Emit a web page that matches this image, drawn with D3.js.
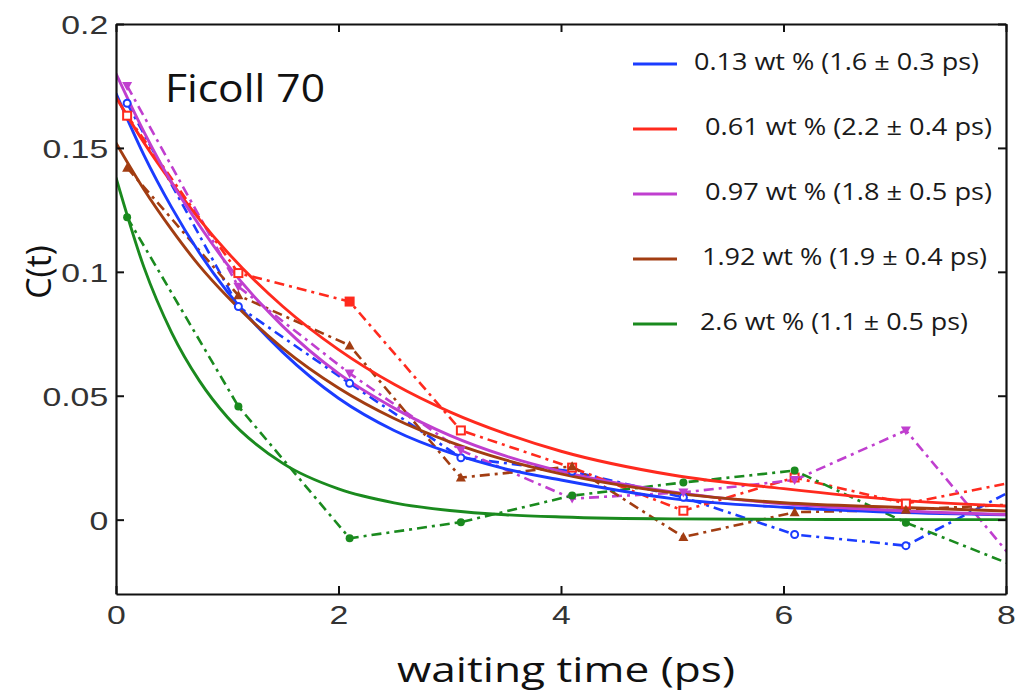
<!DOCTYPE html>
<html>
<head>
<meta charset="utf-8">
<script src="https://cdn.jsdelivr.net/npm/d3@7"></script>
<style>
  html, body { margin: 0; padding: 0; background: #fff; }
  svg { display: block; }
</style>
</head>
<body>
<svg id="chart" width="1015" height="693"></svg>
<script>
// ---------- data ----------
const seriesNames = [
  "0.13 wt % (1.6 \u00b1 0.3 ps)",
  "0.61 wt % (2.2 \u00b1 0.4 ps)",
  "0.97 wt % (1.8 \u00b1 0.5 ps)",
  "1.92 wt % (1.9 \u00b1 0.4 ps)",
  "2.6 wt % (1.1 \u00b1 0.5 ps)"
];
const seriesColors = ["#1b3cff", "#ff2a1e", "#c03fcf", "#a23d12", "#1a8a1e"];
const markerShapes = ["circle", "square", "triangleDown", "triangle", "dot"];

// measured points (waiting time, ps)
const dataT = [0.1, 1.1, 2.1, 3.1, 4.1, 5.1, 6.1, 7.1, 8.1];
const data013 = [0.168, 0.086, 0.055, 0.025, 0.0195, 0.009, -0.006, -0.0105, 0.0128];
const data061 = [0.163, 0.0995, 0.088, 0.036, 0.021, 0.0036, 0.017, 0.0065, 0.0154];
const data097 = [0.175, 0.094, 0.059, 0.028, 0.0085, 0.011, 0.016, 0.036, -0.0179];
const data192 = [0.142, 0.0905, 0.0703, 0.017, 0.0215, -0.007, 0.003, 0.004, 0.0062];
const data26  = [0.122, 0.0457, -0.0075, -0.001, 0.0097, 0.015, 0.0198, -0.0012, -0.0191];

// fitted curves
const fitT = [0, 0.25, 0.5, 0.75, 1, 1.5, 2, 2.5, 3, 3.5, 4, 5, 6, 7, 8];
const fit013 = [0.172, 0.1472, 0.126, 0.1076, 0.092, 0.0675, 0.049, 0.036, 0.027, 0.0205, 0.016, 0.0085, 0.005, 0.003, 0.002];
const fit061 = [0.1705, 0.1522, 0.136, 0.1212, 0.108, 0.086, 0.0686, 0.0546, 0.0435, 0.0347, 0.0276, 0.018, 0.0125, 0.008, 0.0055];
const fit097 = [0.18, 0.1566, 0.136, 0.1187, 0.103, 0.078, 0.059, 0.045, 0.034, 0.0257, 0.0195, 0.0112, 0.0064, 0.0037, 0.0021];
const fit192 = [0.152, 0.1333, 0.117, 0.1024, 0.09, 0.0691, 0.0531, 0.0408, 0.0314, 0.0241, 0.0185, 0.0109, 0.0068, 0.005, 0.0035];
const fit26  = [0.138, 0.102, 0.0755, 0.056, 0.0414, 0.0227, 0.0124, 0.0068, 0.0037, 0.002, 0.0011, 0.0003, 0.0001, 0, 0];

const xTicks = [0, 2, 4, 6, 8];
const xTickLabels = ["0", "2", "4", "6", "8"];
const yTicks = [0, 0.05, 0.1, 0.15, 0.2];
const yTickLabels = ["0", "0.05", "0.1", "0.15", "0.2"];

const xTitle = "waiting time (ps)";
const yTitle = "C(t)";
const panelLabel = "Ficoll 70";

// ---------- chart ----------
const dataSets = [data013, data061, data097, data192, data26];
const fitSets = [fit013, fit061, fit097, fit192, fit26];

const svg = d3.select("#chart");
const plotL = 116, plotR = 1006, plotT = 24, plotB = 594;

const x = d3.scaleLinear().domain([0, 8]).range([plotL, plotR]);
const y = d3.scaleLinear().domain([-0.03, 0.2]).range([plotB, plotT]);

svg.append("defs").append("clipPath").attr("id", "plotclip")
  .append("rect").attr("x", plotL).attr("y", plotT)
  .attr("width", plotR - plotL).attr("height", plotB - plotT);

const plot = svg.append("g").attr("clip-path", "url(#plotclip)");

const lineGen = d3.line().x(d => x(d[0])).y(d => y(d[1]));
const fitGen = d3.line().x(d => x(d[0])).y(d => y(d[1])).curve(d3.curveMonotoneX);

// measured dash-dot lines
dataSets.forEach((vals, i) => {
  const pts = dataT.map((t, k) => [t, vals[k]]);
  plot.append("path")
    .attr("d", lineGen(pts))
    .attr("fill", "none")
    .attr("stroke", seriesColors[i])
    .attr("stroke-width", 2.6)
    .attr("stroke-dasharray", "10,5,3,5");
});

// fit curves
fitSets.forEach((vals, i) => {
  const pts = fitT.map((t, k) => [t, vals[k]]);
  plot.append("path")
    .attr("d", fitGen(pts))
    .attr("fill", "none")
    .attr("stroke", seriesColors[i])
    .attr("stroke-width", 2.9);
});

// markers
dataSets.forEach((vals, i) => {
  const col = seriesColors[i];
  const shape = markerShapes[i];
  const g = plot.append("g");
  dataT.forEach((t, k) => {
    const cx = x(t), cy = y(vals[k]);
    if (shape === "circle") {
      g.append("circle").attr("cx", cx).attr("cy", cy).attr("r", 3.5)
        .attr("fill", "#fff").attr("stroke", col).attr("stroke-width", 2);
    } else if (shape === "dot") {
      g.append("circle").attr("cx", cx).attr("cy", cy).attr("r", 4).attr("fill", col);
    } else if (shape === "square") {
      g.append("rect").attr("x", cx - 4).attr("y", cy - 4).attr("width", 8).attr("height", 8)
        .attr("fill", k === 2 ? col : "#fff").attr("stroke", col).attr("stroke-width", 2);
    } else if (shape === "triangleDown") {
      g.append("path").attr("d", `M${cx - 5},${cy - 4}L${cx + 5},${cy - 4}L${cx},${cy + 5}Z`).attr("fill", col);
    } else {
      g.append("path").attr("d", `M${cx - 5},${cy + 4}L${cx + 5},${cy + 4}L${cx},${cy - 5}Z`).attr("fill", col);
    }
  });
});

// axes (box with inward ticks)
const axisFont = "'Liberation Sans', Arial, sans-serif";
const gx = svg.append("g").attr("transform", `translate(0,${plotB})`)
  .call(d3.axisBottom(x).tickValues(xTicks).tickSize(-8).tickSizeOuter(0)
    .tickFormat((d, i) => xTickLabels[i]));
const gxt = svg.append("g").attr("transform", `translate(0,${plotT})`)
  .call(d3.axisTop(x).tickValues(xTicks).tickSize(-8).tickSizeOuter(0).tickFormat(""));
const gy = svg.append("g").attr("transform", `translate(${plotL},0)`)
  .call(d3.axisLeft(y).tickValues(yTicks).tickSize(-8).tickSizeOuter(0)
    .tickFormat((d, i) => yTickLabels[i]));
const gyr = svg.append("g").attr("transform", `translate(${plotR},0)`)
  .call(d3.axisRight(y).tickValues(yTicks).tickSize(-8).tickSizeOuter(0).tickFormat(""));

[gx, gxt, gy, gyr].forEach(g => {
  g.select(".domain").attr("stroke", "#111").attr("stroke-width", 2.2);
  g.selectAll(".tick line").attr("stroke", "#111").attr("stroke-width", 2);
});

gx.selectAll(".tick text")
  .attr("y", 30).attr("dy", 0)
  .attr("transform", "scale(1.3,1)")
  .style("font-family", axisFont).style("font-size", "26px").attr("fill", "#333");
gy.selectAll(".tick text")
  .attr("x", -6).attr("dy", "0.36em")
  .attr("transform", "scale(1.3,1)")
  .style("font-family", axisFont).style("font-size", "26px").attr("fill", "#333");

// titles
const titleFont = "'Open Sans', 'Noto Sans', sans-serif";
svg.append("text")
  .attr("x", 397).attr("y", 682)
  .attr("textLength", 338).attr("lengthAdjust", "spacingAndGlyphs")
  .style("font-family", titleFont).style("font-size", "34px").attr("fill", "#111")
  .text(xTitle);

svg.append("text")
  .attr("transform", "translate(51,272) rotate(-90)")
  .attr("text-anchor", "middle")
  .style("font-family", titleFont).style("font-size", "34px").attr("fill", "#111")
  .text(yTitle);

svg.append("text")
  .attr("x", 165).attr("y", 102)
  .attr("textLength", 160).attr("lengthAdjust", "spacingAndGlyphs")
  .style("font-family", titleFont).style("font-size", "38px").attr("fill", "#111")
  .text(panelLabel);

// legend
const legendY = [64, 129, 194, 259, 324];
const legendTextX = [694, 705, 705, 702, 700];
const legendTextLen = [285, 287, 287, 285, 268];
const legend = svg.append("g");
seriesNames.forEach((name, i) => {
  legend.append("line")
    .attr("x1", 633).attr("x2", 677)
    .attr("y1", legendY[i]).attr("y2", legendY[i])
    .attr("stroke", seriesColors[i]).attr("stroke-width", 3);
  legend.append("text")
    .attr("x", legendTextX[i]).attr("y", legendY[i] + 6)
    .attr("textLength", legendTextLen[i]).attr("lengthAdjust", "spacingAndGlyphs")
    .style("font-family", titleFont).style("font-size", "23px").attr("fill", "#1a1a1a")
    .text(name);
});
</script>
</body>
</html>
